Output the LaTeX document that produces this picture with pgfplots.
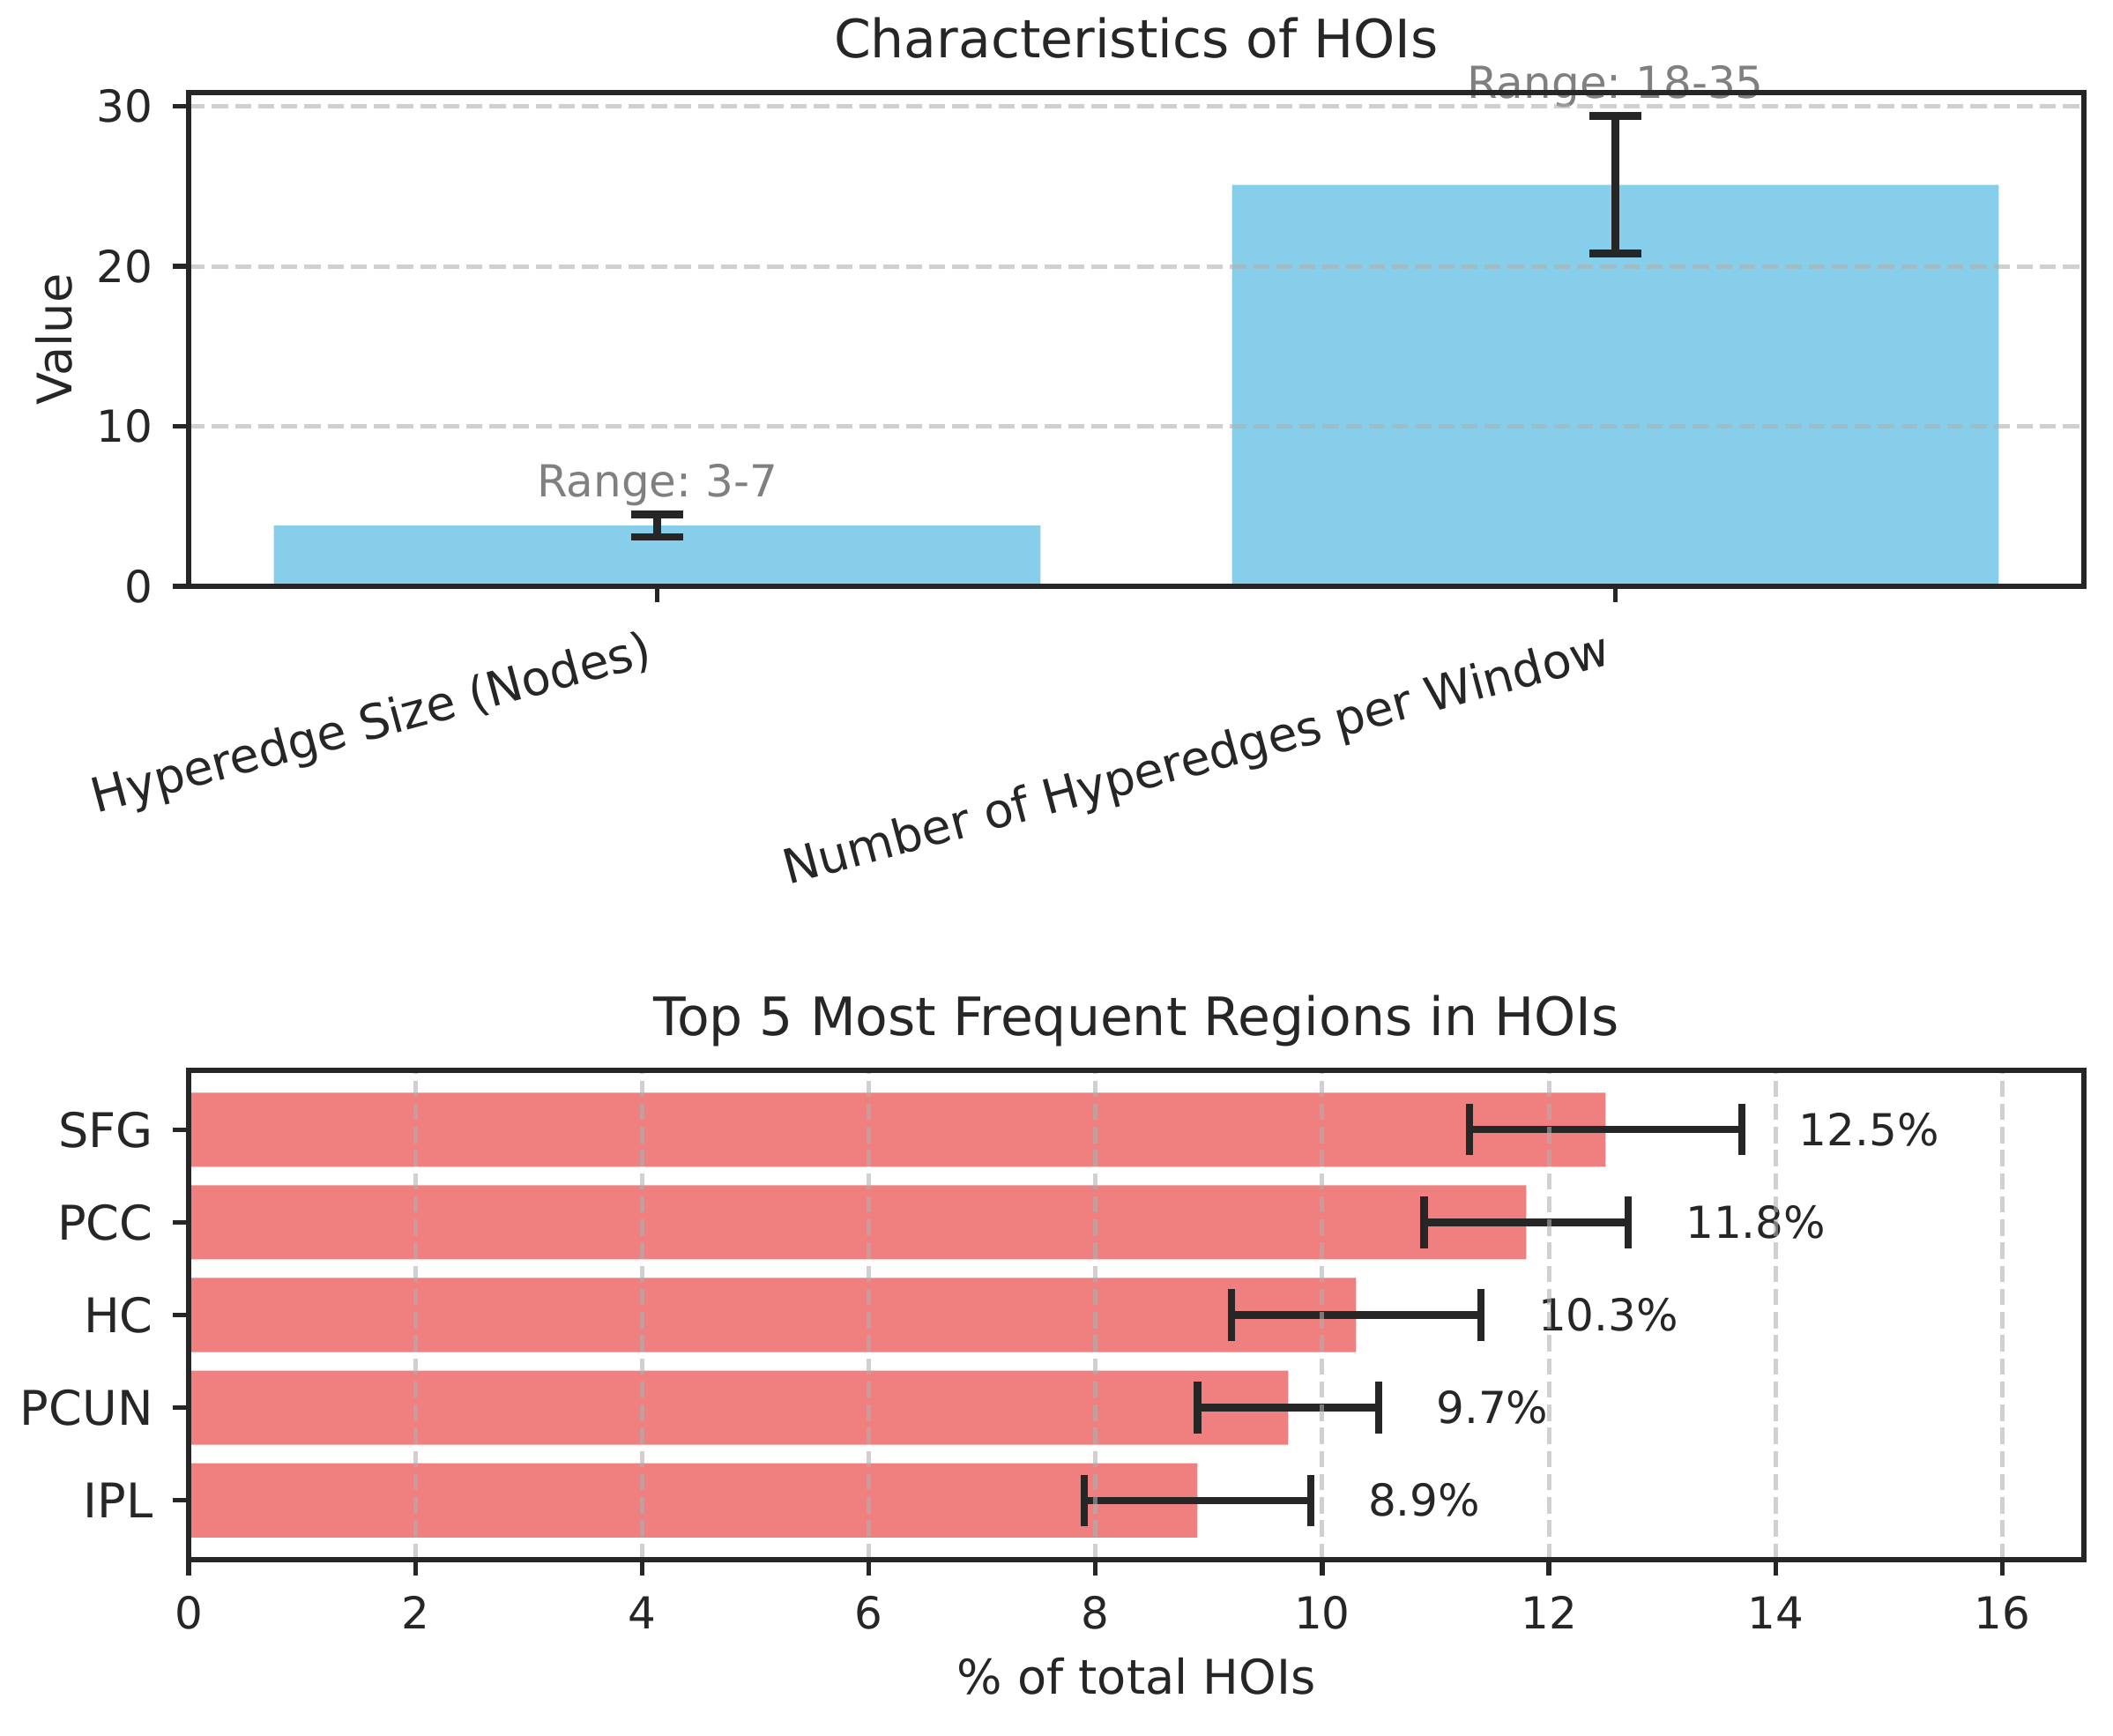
\documentclass[border=0pt]{standalone}
\usepackage{fontspec}
\setmainfont{DejaVu Sans}
\usepackage{pgfplots}
\pgfplotsset{compat=1.18}
\frenchspacing

\definecolor{txt}{RGB}{38,38,38}
\definecolor{skyblue}{RGB}{135,206,235}
\definecolor{lightcoral}{RGB}{240,128,128}
\definecolor{annot}{RGB}{128,128,128}
\definecolor{gridc}{RGB}{176,176,176}

\newcommand{\fs}[1]{\fontsize{#1}{#1}\selectfont}

\pgfplotsset{
  hoi/.style={
    scale only axis,
    width=516pt,
    anchor=south west,
    clip=false,
    axis on top,
    axis line style={line width=1.25pt, color=txt},
    tick align=outside,
    xtick pos=left, ytick pos=left,
    major tick length=4.3pt,
    tick style={line width=1.25pt, color=txt},
    grid style={line width=1.2pt, color=gridc, opacity=0.6, dash pattern=on 4.4pt off 1.9pt},
    /pgf/number format/assume math mode=true,
    every axis title/.style={at={(axis description cs:0.5,1)}, anchor=base, yshift=9.4pt,
      font=\fs{14.4}, text=txt},
    every tick label/.append style={text=txt},
  },
}

\begin{document}
\begin{tikzpicture}
\useasboundingbox (0,0) rectangle (575.28pt,-472.32pt);

% upper panel
\begin{axis}[
  hoi,
  at={(51.36pt,-159.6pt)},
  height=134.4pt,
  ybar,
  bar width=0.8,
  xmin=-0.489, xmax=1.489,
  ymin=0, ymax=30.86,
  xtick={0,1},
  xticklabels={Hyperedge Size (Nodes), Number of Hyperedges per Window},
  ytick={0,10,20,30},
  ymajorgrids,
  xticklabel style={font=\fs{13}, rotate=15, anchor=north east, inner sep=0pt,
    xshift=-5pt, yshift=-6pt},
  yticklabel style={font=\fs{12}, anchor=east, inner sep=0pt, xshift=-5.2pt},
  title={Characteristics of HOIs},
  ylabel={Value},
  ylabel style={at={(axis description cs:-0.0711,0.5)}, anchor=center,
    font=\fs{13}, text=txt},
]
\addplot[fill=skyblue, draw=none,
  error bars/.cd, y dir=both, y explicit,
  error bar style={line width=2pt, color=txt},
  error mark options={rotate=90, line width=2pt, color=txt, mark size=7pt}]
  coordinates {(0,3.8) +- (0,0.7) (1,25.1) +- (0,4.3)};
\node[anchor=south, inner sep=0pt, font=\fs{12}, text=annot] at (axis cs:0,5.0) {Range: 3-7};
\node[anchor=south, inner sep=0pt, font=\fs{12}, text=annot] at (axis cs:1,29.9) {Range: 18-35};
\end{axis}

% lower panel
\begin{axis}[
  hoi,
  at={(51.36pt,-424.56pt)},
  height=133.2pt,
  xbar,
  bar width=0.8,
  xmin=0, xmax=16.72,
  ymin=-0.64, ymax=4.64,
  xtick={0,2,4,6,8,10,12,14,16},
  ytick={0,1,2,3,4},
  yticklabels={IPL,PCUN,HC,PCC,SFG},
  xmajorgrids,
  xticklabel style={font=\fs{12}, anchor=base, inner sep=0pt, yshift=-14.5pt},
  yticklabel style={font=\fs{13}, anchor=east, inner sep=0pt, xshift=-5.2pt},
  title={Top 5 Most Frequent Regions in HOIs},
  xlabel={\% of total HOIs},
  xlabel style={at={(axis description cs:0.5,0)}, anchor=base, yshift=-36.5pt,
    font=\fs{13}, text=txt},
]
\addplot[fill=lightcoral, draw=none,
  error bars/.cd, x dir=both, x explicit,
  error bar style={line width=2pt, color=txt},
  error mark options={rotate=90, line width=2pt, color=txt, mark size=7pt}]
  coordinates {(8.9,0) +- (1.0,0) (9.7,1) +- (0.8,0) (10.3,2) +- (1.1,0)
               (11.8,3) +- (0.9,0) (12.5,4) +- (1.2,0)};
\node[anchor=west, inner sep=0pt, font=\fs{12}, text=txt] at (axis cs:10.4,0) {8.9\%};
\node[anchor=west, inner sep=0pt, font=\fs{12}, text=txt] at (axis cs:11.0,1) {9.7\%};
\node[anchor=west, inner sep=0pt, font=\fs{12}, text=txt] at (axis cs:11.9,2) {10.3\%};
\node[anchor=west, inner sep=0pt, font=\fs{12}, text=txt] at (axis cs:13.2,3) {11.8\%};
\node[anchor=west, inner sep=0pt, font=\fs{12}, text=txt] at (axis cs:14.2,4) {12.5\%};
\end{axis}
\end{tikzpicture}
\end{document}
